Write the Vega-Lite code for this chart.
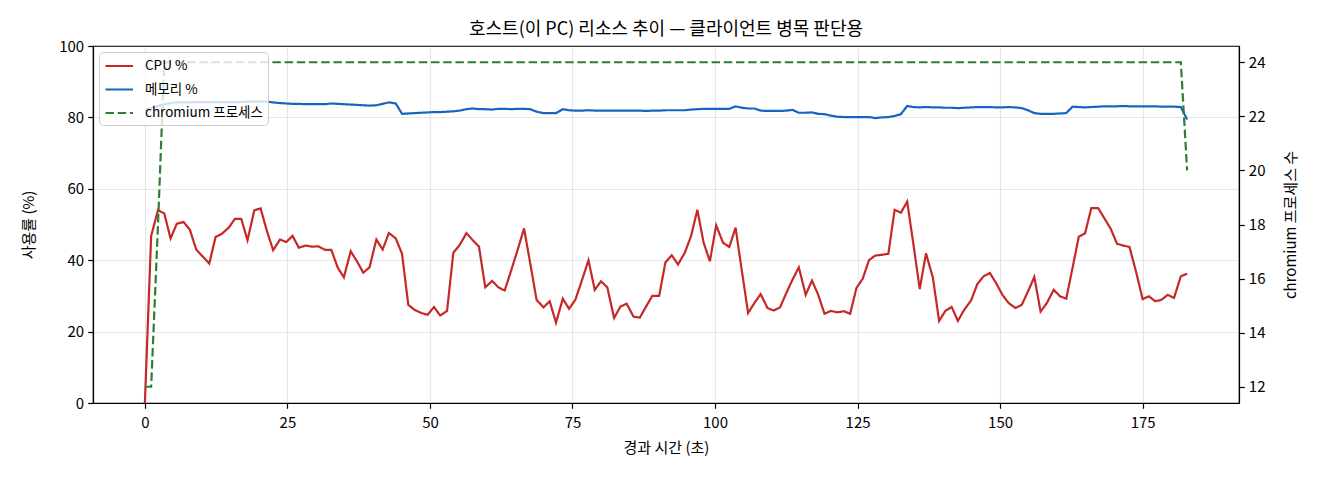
{
  "$schema": "https://vega.github.io/schema/vega-lite/v6.json",
  "description": "Host resource trend: CPU %, memory % and chromium process count over elapsed time.",
  "width": 1146,
  "height": 357,
  "autosize": {"type": "none"},
  "padding": {"left": 93, "top": 46, "right": 81, "bottom": 77},
  "background": "white",
  "title": {
    "text": "호스트(이 PC) 리소스 추이 — 클라이언트 병목 판단용",
    "fontSize": 18,
    "fontWeight": "normal",
    "color": "#000",
    "offset": 0
  },
  "data": {
    "values": [
      {"t": 0, "cpu": 0, "mem": 82.0, "proc": 12},
      {"t": 1.1, "cpu": 46.8, "mem": 82.6, "proc": 12},
      {"t": 2.3, "cpu": 54.0, "mem": 83.2, "proc": 18},
      {"t": 3.4, "cpu": 53.1, "mem": 83.7, "proc": 24},
      {"t": 4.5, "cpu": 46.1, "mem": 84.0, "proc": 24},
      {"t": 5.6, "cpu": 50.2, "mem": 84.2, "proc": 24},
      {"t": 6.8, "cpu": 50.7, "mem": 84.2, "proc": 24},
      {"t": 7.9, "cpu": 48.5, "mem": 84.2, "proc": 24},
      {"t": 9.0, "cpu": 43.0, "mem": 84.3, "proc": 24},
      {"t": 10.1, "cpu": 41.1, "mem": 84.3, "proc": 24},
      {"t": 11.3, "cpu": 39.1, "mem": 84.3, "proc": 24},
      {"t": 12.4, "cpu": 46.5, "mem": 84.3, "proc": 24},
      {"t": 13.5, "cpu": 47.4, "mem": 84.3, "proc": 24},
      {"t": 14.7, "cpu": 49.1, "mem": 84.3, "proc": 24},
      {"t": 15.8, "cpu": 51.6, "mem": 84.3, "proc": 24},
      {"t": 16.9, "cpu": 51.6, "mem": 84.3, "proc": 24},
      {"t": 18.0, "cpu": 45.6, "mem": 84.4, "proc": 24},
      {"t": 19.2, "cpu": 54.0, "mem": 84.4, "proc": 24},
      {"t": 20.3, "cpu": 54.5, "mem": 84.4, "proc": 24},
      {"t": 21.4, "cpu": 48.2, "mem": 84.4, "proc": 24},
      {"t": 22.5, "cpu": 42.8, "mem": 84.2, "proc": 24},
      {"t": 23.7, "cpu": 45.8, "mem": 84.0, "proc": 24},
      {"t": 24.8, "cpu": 45.1, "mem": 83.9, "proc": 24},
      {"t": 25.9, "cpu": 46.8, "mem": 83.8, "proc": 24},
      {"t": 27.0, "cpu": 43.5, "mem": 83.8, "proc": 24},
      {"t": 28.2, "cpu": 44.1, "mem": 83.7, "proc": 24},
      {"t": 29.3, "cpu": 43.8, "mem": 83.7, "proc": 24},
      {"t": 30.4, "cpu": 43.9, "mem": 83.7, "proc": 24},
      {"t": 31.6, "cpu": 42.9, "mem": 83.7, "proc": 24},
      {"t": 32.7, "cpu": 42.9, "mem": 83.9, "proc": 24},
      {"t": 33.8, "cpu": 38.0, "mem": 83.8, "proc": 24},
      {"t": 34.9, "cpu": 35.2, "mem": 83.7, "proc": 24},
      {"t": 36.1, "cpu": 42.5, "mem": 83.6, "proc": 24},
      {"t": 37.2, "cpu": 39.7, "mem": 83.5, "proc": 24},
      {"t": 38.3, "cpu": 36.5, "mem": 83.4, "proc": 24},
      {"t": 39.4, "cpu": 38.0, "mem": 83.3, "proc": 24},
      {"t": 40.6, "cpu": 45.8, "mem": 83.4, "proc": 24},
      {"t": 41.7, "cpu": 43.0, "mem": 83.8, "proc": 24},
      {"t": 42.8, "cpu": 47.6, "mem": 84.2, "proc": 24},
      {"t": 44.0, "cpu": 46.1, "mem": 83.9, "proc": 24},
      {"t": 45.1, "cpu": 41.8, "mem": 81.0, "proc": 24},
      {"t": 46.2, "cpu": 27.5, "mem": 81.1, "proc": 24},
      {"t": 47.3, "cpu": 26.1, "mem": 81.2, "proc": 24},
      {"t": 48.5, "cpu": 25.2, "mem": 81.3, "proc": 24},
      {"t": 49.6, "cpu": 24.7, "mem": 81.4, "proc": 24},
      {"t": 50.7, "cpu": 26.9, "mem": 81.5, "proc": 24},
      {"t": 51.8, "cpu": 24.5, "mem": 81.5, "proc": 24},
      {"t": 53.0, "cpu": 25.8, "mem": 81.6, "proc": 24},
      {"t": 54.1, "cpu": 42.1, "mem": 81.7, "proc": 24},
      {"t": 55.2, "cpu": 44.2, "mem": 81.9, "proc": 24},
      {"t": 56.4, "cpu": 47.6, "mem": 82.3, "proc": 24},
      {"t": 57.5, "cpu": 45.6, "mem": 82.5, "proc": 24},
      {"t": 58.6, "cpu": 43.8, "mem": 82.3, "proc": 24},
      {"t": 59.7, "cpu": 32.4, "mem": 82.3, "proc": 24},
      {"t": 60.9, "cpu": 34.2, "mem": 82.2, "proc": 24},
      {"t": 62.0, "cpu": 32.4, "mem": 82.4, "proc": 24},
      {"t": 63.1, "cpu": 31.5, "mem": 82.4, "proc": 24},
      {"t": 64.2, "cpu": 36.9, "mem": 82.3, "proc": 24},
      {"t": 65.4, "cpu": 43.0, "mem": 82.4, "proc": 24},
      {"t": 66.5, "cpu": 48.9, "mem": 82.4, "proc": 24},
      {"t": 67.6, "cpu": 39.0, "mem": 82.3, "proc": 24},
      {"t": 68.7, "cpu": 28.9, "mem": 81.6, "proc": 24},
      {"t": 69.9, "cpu": 26.8, "mem": 81.2, "proc": 24},
      {"t": 71.0, "cpu": 28.5, "mem": 81.2, "proc": 24},
      {"t": 72.1, "cpu": 22.5, "mem": 81.2, "proc": 24},
      {"t": 73.3, "cpu": 29.2, "mem": 82.3, "proc": 24},
      {"t": 74.4, "cpu": 26.4, "mem": 82.0, "proc": 24},
      {"t": 75.5, "cpu": 28.9, "mem": 81.9, "proc": 24},
      {"t": 76.6, "cpu": 34.1, "mem": 81.9, "proc": 24},
      {"t": 77.8, "cpu": 40.0, "mem": 82.0, "proc": 24},
      {"t": 78.9, "cpu": 31.7, "mem": 81.9, "proc": 24},
      {"t": 80.0, "cpu": 34.1, "mem": 81.9, "proc": 24},
      {"t": 81.1, "cpu": 32.4, "mem": 81.9, "proc": 24},
      {"t": 82.3, "cpu": 23.8, "mem": 81.9, "proc": 24},
      {"t": 83.4, "cpu": 27.0, "mem": 81.9, "proc": 24},
      {"t": 84.5, "cpu": 27.8, "mem": 81.9, "proc": 24},
      {"t": 85.7, "cpu": 24.2, "mem": 81.9, "proc": 24},
      {"t": 86.8, "cpu": 23.9, "mem": 81.9, "proc": 24},
      {"t": 87.9, "cpu": 27.0, "mem": 81.8, "proc": 24},
      {"t": 89.0, "cpu": 30.0, "mem": 81.9, "proc": 24},
      {"t": 90.2, "cpu": 30.0, "mem": 81.9, "proc": 24},
      {"t": 91.3, "cpu": 39.4, "mem": 82.0, "proc": 24},
      {"t": 92.4, "cpu": 41.4, "mem": 82.0, "proc": 24},
      {"t": 93.5, "cpu": 38.8, "mem": 82.0, "proc": 24},
      {"t": 94.7, "cpu": 42.1, "mem": 82.0, "proc": 24},
      {"t": 95.8, "cpu": 46.8, "mem": 82.2, "proc": 24},
      {"t": 96.9, "cpu": 54.1, "mem": 82.3, "proc": 24},
      {"t": 98.0, "cpu": 44.9, "mem": 82.4, "proc": 24},
      {"t": 99.1, "cpu": 39.7, "mem": 82.4, "proc": 24},
      {"t": 100.2, "cpu": 49.8, "mem": 82.4, "proc": 24},
      {"t": 101.4, "cpu": 44.9, "mem": 82.4, "proc": 24},
      {"t": 102.5, "cpu": 43.7, "mem": 82.4, "proc": 24},
      {"t": 103.6, "cpu": 49.1, "mem": 83.1, "proc": 24},
      {"t": 104.7, "cpu": 37.1, "mem": 82.7, "proc": 24},
      {"t": 105.8, "cpu": 25.2, "mem": 82.5, "proc": 24},
      {"t": 106.9, "cpu": 28.0, "mem": 82.5, "proc": 24},
      {"t": 108.0, "cpu": 30.5, "mem": 81.9, "proc": 24},
      {"t": 109.2, "cpu": 26.6, "mem": 81.8, "proc": 24},
      {"t": 110.3, "cpu": 25.9, "mem": 81.8, "proc": 24},
      {"t": 111.4, "cpu": 26.8, "mem": 81.8, "proc": 24},
      {"t": 112.5, "cpu": 30.8, "mem": 81.9, "proc": 24},
      {"t": 113.6, "cpu": 34.6, "mem": 82.1, "proc": 24},
      {"t": 114.7, "cpu": 38.0, "mem": 81.3, "proc": 24},
      {"t": 115.9, "cpu": 30.3, "mem": 81.3, "proc": 24},
      {"t": 117.0, "cpu": 34.3, "mem": 81.4, "proc": 24},
      {"t": 118.1, "cpu": 30.3, "mem": 81.0, "proc": 24},
      {"t": 119.2, "cpu": 25.0, "mem": 80.9, "proc": 24},
      {"t": 120.3, "cpu": 25.8, "mem": 80.5, "proc": 24},
      {"t": 121.4, "cpu": 25.4, "mem": 80.2, "proc": 24},
      {"t": 122.6, "cpu": 25.7, "mem": 80.1, "proc": 24},
      {"t": 123.7, "cpu": 25.0, "mem": 80.1, "proc": 24},
      {"t": 124.8, "cpu": 32.2, "mem": 80.1, "proc": 24},
      {"t": 125.9, "cpu": 34.8, "mem": 80.1, "proc": 24},
      {"t": 127.0, "cpu": 40.0, "mem": 80.1, "proc": 24},
      {"t": 128.1, "cpu": 41.3, "mem": 79.8, "proc": 24},
      {"t": 129.2, "cpu": 41.5, "mem": 80.0, "proc": 24},
      {"t": 130.4, "cpu": 41.8, "mem": 80.1, "proc": 24},
      {"t": 131.5, "cpu": 54.1, "mem": 80.4, "proc": 24},
      {"t": 132.6, "cpu": 53.3, "mem": 80.9, "proc": 24},
      {"t": 133.7, "cpu": 56.4, "mem": 83.2, "proc": 24},
      {"t": 134.8, "cpu": 44.4, "mem": 82.9, "proc": 24},
      {"t": 135.9, "cpu": 31.9, "mem": 82.8, "proc": 24},
      {"t": 137.0, "cpu": 41.9, "mem": 82.9, "proc": 24},
      {"t": 138.2, "cpu": 35.2, "mem": 82.8, "proc": 24},
      {"t": 139.3, "cpu": 23.0, "mem": 82.8, "proc": 24},
      {"t": 140.4, "cpu": 25.8, "mem": 82.7, "proc": 24},
      {"t": 141.5, "cpu": 26.9, "mem": 82.7, "proc": 24},
      {"t": 142.6, "cpu": 23.0, "mem": 82.6, "proc": 24},
      {"t": 143.7, "cpu": 26.1, "mem": 82.7, "proc": 24},
      {"t": 144.9, "cpu": 28.7, "mem": 82.8, "proc": 24},
      {"t": 146.0, "cpu": 33.3, "mem": 82.9, "proc": 24},
      {"t": 147.1, "cpu": 35.5, "mem": 82.9, "proc": 24},
      {"t": 148.2, "cpu": 36.4, "mem": 82.9, "proc": 24},
      {"t": 149.3, "cpu": 33.6, "mem": 82.8, "proc": 24},
      {"t": 150.4, "cpu": 30.3, "mem": 82.8, "proc": 24},
      {"t": 151.5, "cpu": 28.0, "mem": 82.9, "proc": 24},
      {"t": 152.7, "cpu": 26.6, "mem": 82.8, "proc": 24},
      {"t": 153.8, "cpu": 27.5, "mem": 82.6, "proc": 24},
      {"t": 154.9, "cpu": 31.3, "mem": 82.0, "proc": 24},
      {"t": 156.0, "cpu": 35.3, "mem": 81.2, "proc": 24},
      {"t": 157.1, "cpu": 25.6, "mem": 81.0, "proc": 24},
      {"t": 158.2, "cpu": 28.0, "mem": 81.0, "proc": 24},
      {"t": 159.4, "cpu": 31.7, "mem": 81.0, "proc": 24},
      {"t": 160.5, "cpu": 29.9, "mem": 81.1, "proc": 24},
      {"t": 161.6, "cpu": 29.2, "mem": 81.2, "proc": 24},
      {"t": 162.7, "cpu": 37.8, "mem": 83.0, "proc": 24},
      {"t": 163.8, "cpu": 46.6, "mem": 82.9, "proc": 24},
      {"t": 164.9, "cpu": 47.5, "mem": 82.8, "proc": 24},
      {"t": 166.0, "cpu": 54.6, "mem": 82.9, "proc": 24},
      {"t": 167.2, "cpu": 54.6, "mem": 83.0, "proc": 24},
      {"t": 168.3, "cpu": 51.7, "mem": 83.1, "proc": 24},
      {"t": 169.4, "cpu": 48.8, "mem": 83.1, "proc": 24},
      {"t": 170.5, "cpu": 44.6, "mem": 83.1, "proc": 24},
      {"t": 171.6, "cpu": 44.1, "mem": 83.2, "proc": 24},
      {"t": 172.7, "cpu": 43.7, "mem": 83.1, "proc": 24},
      {"t": 173.9, "cpu": 36.4, "mem": 83.1, "proc": 24},
      {"t": 175.0, "cpu": 29.1, "mem": 83.1, "proc": 24},
      {"t": 176.1, "cpu": 29.9, "mem": 83.1, "proc": 24},
      {"t": 177.2, "cpu": 28.5, "mem": 83.1, "proc": 24},
      {"t": 178.3, "cpu": 28.9, "mem": 83.0, "proc": 24},
      {"t": 179.4, "cpu": 30.3, "mem": 83.0, "proc": 24},
      {"t": 180.5, "cpu": 29.4, "mem": 83.0, "proc": 24},
      {"t": 181.7, "cpu": 35.5, "mem": 82.9, "proc": 24},
      {"t": 182.8, "cpu": 36.2, "mem": 79.4, "proc": 20}
    ]
  },
  "encoding": {
    "x": {
      "field": "t",
      "type": "quantitative",
      "scale": {"domain": [-9.1, 191.9], "nice": false, "zero": false},
      "axis": {
        "title": "경과 시간 (초)",
        "values": [0, 25, 50, 75, 100, 125, 150, 175],
        "grid": true,
        "labelPadding": 7,
        "titlePadding": 10
      }
    }
  },
  "layer": [
    {
      "layer": [
        {
          "mark": {"type": "line", "strokeWidth": 2.2, "clip": true},
          "encoding": {
            "y": {
              "field": "cpu",
              "type": "quantitative",
              "title": "사용률 (%)",
              "scale": {"domain": [0, 100], "nice": false},
              "axis": {"values": [0, 20, 40, 60, 80, 100], "grid": true, "titlePadding": 22}
            },
            "color": {
              "datum": "CPU %",
              "type": "nominal",
              "scale": {
                "domain": ["CPU %", "메모리 %", "chromium 프로세스"],
                "range": ["#c62828", "#1565c0", "#2e7d32"]
              },
              "legend": {"title": null}
            },
            "strokeDash": {
              "datum": "CPU %",
              "type": "nominal",
              "scale": {
                "domain": ["CPU %", "메모리 %", "chromium 프로세스"],
                "range": [[1, 0], [1, 0], [8.5, 3.7]]
              },
              "legend": {"title": null}
            }
          }
        },
        {
          "mark": {"type": "line", "strokeWidth": 2.2, "clip": true},
          "encoding": {
            "y": {"field": "mem", "type": "quantitative", "title": "사용률 (%)"},
            "color": {"datum": "메모리 %", "type": "nominal"},
            "strokeDash": {"datum": "메모리 %", "type": "nominal"}
          }
        }
      ]
    },
    {
      "mark": {"type": "line", "strokeWidth": 2.2, "clip": true},
      "encoding": {
        "y": {
          "field": "proc",
          "type": "quantitative",
          "title": "chromium 프로세스 수",
          "scale": {"domain": [11.4, 24.6], "nice": false, "zero": false},
          "axis": {
            "orient": "right",
            "values": [12, 14, 16, 18, 20, 22, 24],
            "grid": false,
            "titleAngle": 270,
            "titleBaseline": "top",
            "titlePadding": 19
          }
        },
        "color": {"datum": "chromium 프로세스", "type": "nominal"},
        "strokeDash": {"datum": "chromium 프로세스", "type": "nominal"}
      }
    }
  ],
  "resolve": {"scale": {"y": "independent"}},
  "config": {
    "font": "Noto Sans CJK KR",
    "view": {"stroke": "#000", "strokeWidth": 1.2},
    "axis": {
      "domainColor": "#000",
      "domainWidth": 1.2,
      "tickColor": "#000",
      "tickWidth": 1.2,
      "tickSize": 5.3,
      "labelColor": "#000",
      "labelFontSize": 15,
      "labelPadding": 4,
      "titleColor": "#000",
      "titleFontSize": 15,
      "titleFontWeight": "normal",
      "gridColor": "#b0b0b0",
      "gridOpacity": 0.3,
      "gridWidth": 1.1
    },
    "legend": {
      "orient": "top-left",
      "offset": 6,
      "padding": 5,
      "fillColor": "rgba(255,255,255,0.8)",
      "strokeColor": "#cccccc",
      "cornerRadius": 4,
      "labelFontSize": 13.5,
      "labelColor": "#000",
      "symbolType": "M-1,0H2.67",
      "symbolSize": 225,
      "symbolStrokeWidth": 2.2,
      "rowPadding": 7.5,
      "labelOffset": 23
    }
  }
}
